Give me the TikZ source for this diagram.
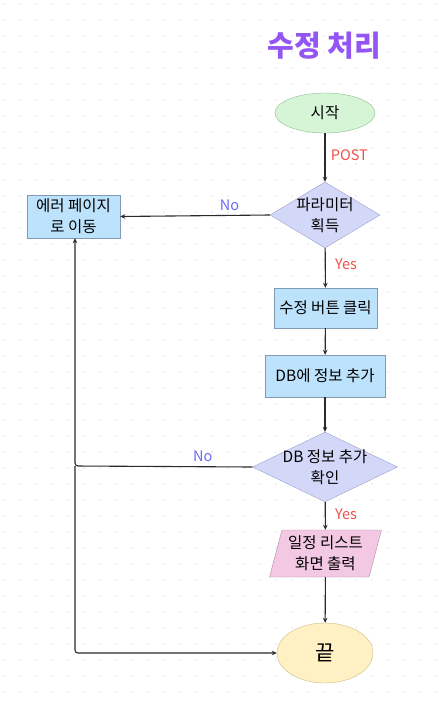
\documentclass[tikz,border=0pt]{standalone}
\usepackage{fontspec}
\setmainfont{Noto Sans CJK KR}
\usetikzlibrary{shapes.geometric,arrows.meta}
\definecolor{titlec}{HTML}{9455F5}
\definecolor{startfill}{HTML}{D5F5D6}
\definecolor{startdraw}{HTML}{8DBF90}
\definecolor{decfill}{HTML}{D4D8F8}
\definecolor{decdraw}{HTML}{9AA0D0}
\definecolor{boxfill}{HTML}{BDE2FB}
\definecolor{boxdraw}{HTML}{7F9CB4}
\definecolor{iofill}{HTML}{F3C8E3}
\definecolor{iodraw}{HTML}{B28AA4}
\definecolor{endfill}{HTML}{FFF1C4}
\definecolor{enddraw}{HTML}{CDBB85}
\definecolor{linec}{HTML}{2A2A2A}
\definecolor{noc}{HTML}{6E6BF5}
\definecolor{yesc}{HTML}{F0504A}
\definecolor{dotc}{HTML}{E2E2E2}
\tikzset{
  txt/.style={font=\fontsize{15.5}{21}\selectfont, text=black, align=center},
  startnode/.style={ellipse, draw=startdraw, fill=startfill, minimum width=100pt, minimum height=40pt, inner sep=0pt, txt},
  endnode/.style={ellipse, draw=enddraw, fill=endfill, minimum width=96pt, minimum height=60pt, inner sep=0pt, txt},
  decnode/.style={diamond, draw=decdraw, fill=decfill, aspect=1.67, inner sep=-5pt, txt},
  boxnode/.style={rectangle, draw=boxdraw, fill=boxfill, inner sep=0pt, txt},
  ionode/.style={trapezium, trapezium left angle=73, trapezium right angle=107, draw=iodraw, fill=iofill, minimum width=113pt, minimum height=47pt, inner sep=0pt, trapezium stretches=true, txt},
  conn/.style={draw=linec, line width=1.1pt, -{Stealth[length=5pt,width=4.5pt]}},
  nolab/.style={text=noc, font=\fontsize{14.5}{16}\selectfont},
  yeslab/.style={text=yesc, font=\fontsize{14.5}{16}\selectfont},
}
\begin{document}
\begin{tikzpicture}[x=1pt,y=-1pt]
\useasboundingbox (0,0) rectangle (439,707);
\fill[white] (0,0) rectangle (439,707);
\foreach \i in {0,...,27}{\foreach \j in {0,...,44}{\fill[dotc] (4+\i*16,4+\j*16) circle (0.9pt);}}
\node[text=titlec, font=\fontsize{29}{34}\selectfont\bfseries] (title) at (324,46) {수정 처리};
\node[startnode] (start) at (325,113) {시작};
\node[decnode, minimum width=110pt, minimum height=66pt] (d1) at (325,215) {파라미터\\획득};
\node[boxnode, minimum width=93pt, minimum height=43pt] (err) at (73.5,216.5) {에러 페이지\\로 이동};
\node[boxnode, minimum width=103pt, minimum height=40pt] (b1) at (325.5,308) {수정 버튼 클릭};
\node[boxnode, minimum width=120pt, minimum height=42pt] (b2) at (325,376) {DB에 정보 추가};
\node[decnode, minimum width=145pt, minimum height=66pt] (d2) at (325,467) {DB 정보 추가\\확인};
\node[ionode] (io) at (325.5,553.5) {일정 리스트\\화면 출력};
\node[endnode, font=\fontsize{21}{24}\selectfont] (end) at (325,653) {끝};
\coordinate (c1) at (75,466);
\coordinate (c2) at (75,653);
\draw[conn] (start) -- node[yeslab, right, pos=0.45, xshift=2pt] (lpost) {POST} (d1);
\draw[conn] (d1.west) -- node[nolab, above, pos=0.27, yshift=1pt] (lno1) {No} (err.east);
\draw[conn] (d1) -- node[yeslab, right, pos=0.4, xshift=6pt] (lyes1) {Yes} (b1);
\draw[conn] (b1) -- (b2);
\draw[conn] (b2) -- (d2);
\draw[conn, rounded corners=3pt] (d2.west) -- node[nolab, above, pos=0.28, yshift=1pt] (lno2) {No} (c1) -- (c1 |- err.south);
\draw[conn, rounded corners=3pt] (c1) -- (c2) -- (end.west);
\draw[conn] (d2) -- node[yeslab, right, pos=0.45, xshift=6pt] (lyes2) {Yes} (io);
\draw[conn] (io) -- (end);
\end{tikzpicture}
\end{document}
